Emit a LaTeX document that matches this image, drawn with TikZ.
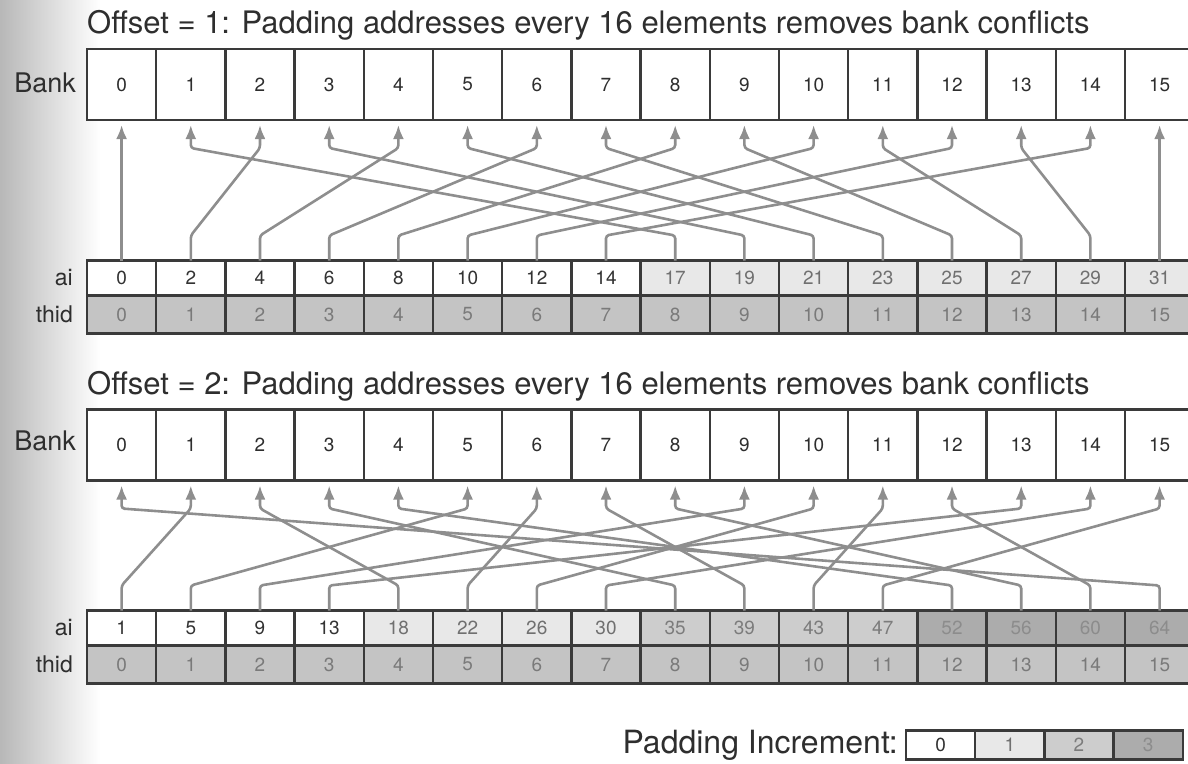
\documentclass[tikz,border=0pt]{standalone}
\usepackage{fontspec}
\setmainfont{TeX Gyre Heros}
\usetikzlibrary{arrows.meta}

\definecolor{ink}{HTML}{2E2E2E}
\definecolor{rule}{HTML}{3A3A3A}
\definecolor{wire}{HTML}{8E8E8E}
\definecolor{padA}{HTML}{FFFFFF}
\definecolor{padB}{HTML}{E8E8E8}
\definecolor{padC}{HTML}{CDCDCD}
\definecolor{padD}{HTML}{ACACAC}
\definecolor{numA}{HTML}{333333}
\definecolor{numB}{HTML}{707070}
\definecolor{numC}{HTML}{7C7C7C}
\definecolor{numD}{HTML}{8C8C8C}
\definecolor{thidfill}{HTML}{C4C4C4}
\definecolor{thidnum}{HTML}{7A7A7A}

\tikzset{
  cell/.style={draw=rule, line width=2.4pt, minimum width=69.2pt, inner sep=0pt,
               outer sep=0pt, font=\fontsize{19}{19}\selectfont},
  bankcell/.style={cell, fill=white, minimum height=71pt, text=ink},
  aicell/.style={cell, minimum height=35pt},
  thidcell/.style={cell, minimum height=38pt, fill=thidfill, text=thidnum},
  legendcell/.style={cell, minimum height=29pt},
  heading/.style={font=\fontsize{31}{31}\selectfont, text=ink, anchor=west, inner sep=0pt},
  rowlabel/.style={font=\fontsize{27}{27}\selectfont, text=ink, anchor=east, inner sep=0pt},
  sublabel/.style={font=\fontsize{23}{23}\selectfont, text=ink, anchor=east, inner sep=0pt},
  conn/.style={draw=wire, line width=2.6pt, rounded corners=3pt,
               -{Latex[length=14pt,width=11pt]}}
}

\begin{document}
\begin{tikzpicture}[x=1pt,y=-1pt]
\useasboundingbox (0,0) rectangle (1188,763);
\clip (0,0) rectangle (1188,763);

% shadow along the left margin of the page
\shade[left color=black!28, right color=white] (0,0) rectangle (100,763);

% ---------------- offset = 1 ----------------
\node[heading] (title1) at (87,25) {Offset = 1: Padding addresses every 16 elements removes bank conflicts};
\node[rowlabel] (banklbl1) at (76,83) {Bank};
\foreach \n in {0,...,15}
  \node[bankcell] (b1-\n) at ({121.6+69.2*\n},84.5) {\n};

\node[sublabel] (ailbl1) at (73,278) {ai};
\node[sublabel] (thidlbl1) at (73,314.5) {thid};
\foreach \v/\p [count=\n from 0] in {0/A,2/A,4/A,6/A,8/A,10/A,12/A,14/A,
                                    17/B,19/B,21/B,23/B,25/B,27/B,29/B,31/B} {
  \node[aicell, fill=pad\p, text=num\p] (a1-\n) at ({121.6+69.2*\n},278) {\v};
  \node[thidcell] (t1-\n) at ({121.6+69.2*\n},314.5) {\n};
}

\foreach \s/\d in {0/0,1/2,2/4,3/6,4/8,5/10,6/12,7/14,
                   8/1,9/3,10/5,11/7,12/9,13/11,14/13,15/15}
  \draw[conn] (a1-\s.north) -- ++(0,-25) -- ([yshift=-28pt]b1-\d.south)
              -- ([yshift=-5pt]b1-\d.south);

% ---------------- offset = 2 ----------------
\node[heading] (title2) at (87,386) {Offset = 2: Padding addresses every 16 elements removes bank conflicts};
\node[rowlabel] (banklbl2) at (76,441) {Bank};
\foreach \n in {0,...,15}
  \node[bankcell] (b2-\n) at ({121.6+69.2*\n},445) {\n};

\node[sublabel] (ailbl2) at (73,628) {ai};
\node[sublabel] (thidlbl2) at (73,664.5) {thid};
\foreach \v/\p [count=\n from 0] in {1/A,5/A,9/A,13/A,18/B,22/B,26/B,30/B,
                                    35/C,39/C,43/C,47/C,52/D,56/D,60/D,64/D} {
  \node[aicell, fill=pad\p, text=num\p] (a2-\n) at ({121.6+69.2*\n},628) {\v};
  \node[thidcell] (t2-\n) at ({121.6+69.2*\n},664.5) {\n};
}

\foreach \s/\d in {0/1,1/5,2/9,3/13,4/2,5/6,6/10,7/14,
                   8/3,9/7,10/11,11/15,12/4,13/8,14/12,15/0}
  \draw[conn] (a2-\s.north) -- ++(0,-25) -- ([yshift=-28pt]b2-\d.south)
              -- ([yshift=-5pt]b2-\d.south);

% ---------------- legend ----------------
\node[heading, anchor=east, font=\fontsize{32}{32}\selectfont] (legendlbl) at (898,745) {Padding Increment:};
\foreach \p [count=\n from 0] in {A,B,C,D}
  \node[legendcell, fill=pad\p, text=num\p] (pad-\n) at ({940.6+69.2*\n},745) {\n};
\end{tikzpicture}
\end{document}
